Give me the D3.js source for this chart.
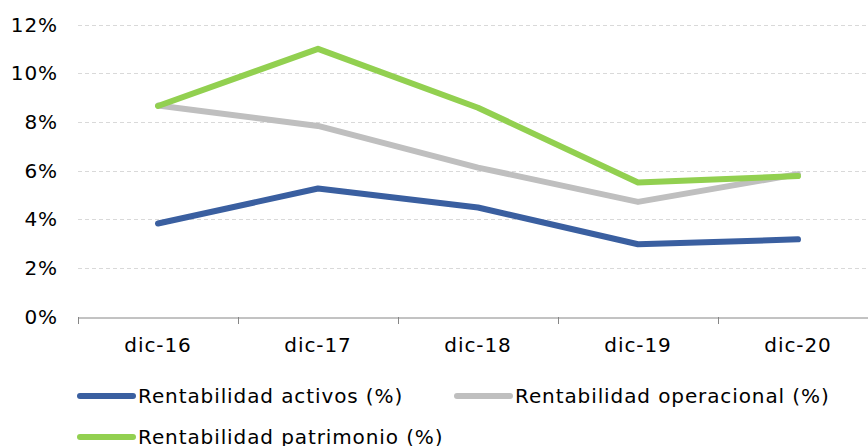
<!DOCTYPE html>
<html>
<head>
<meta charset="utf-8">
<script src="https://cdn.jsdelivr.net/npm/d3@7"></script>
<style>
  body { margin: 0; background: #fff; }
  svg text { font-family: Verdana, "DejaVu Sans", sans-serif; fill: #000; letter-spacing: 0.9px; }
</style>
</head>
<body>
<div id="chart"></div>
<script>
// Datos
const periods = ["dic-16", "dic-17", "dic-18", "dic-19", "dic-20"];
const activos = [3.82, 5.26, 4.48, 2.97, 3.17];
const operacional = [8.67, 7.83, 6.12, 4.71, 5.85];
const patrimonio = [8.65, 11.0, 8.58, 5.51, 5.77];
const yTicks = [0, 2, 4, 6, 8, 10, 12];

const series = [
    { name: "Rentabilidad activos (%)", values: activos, color: "#3A5FA0" },
    { name: "Rentabilidad operacional (%)", values: operacional, color: "#BFBFBF" },
    { name: "Rentabilidad patrimonio (%)", values: patrimonio, color: "#92D050" }
];

const width = 868, height = 446;
const svg = d3.select("#chart").append("svg").attr("width", width).attr("height", height);

const x = d3.scaleBand().domain(periods).range([78, 878]);
const y = d3.scaleLinear().domain([0, 12]).range([316.5, 24.5]);

// grid
svg.append("g")
    .selectAll("line")
    .data(yTicks.filter(d => d > 0))
    .enter()
    .append("line")
    .attr("x1", 78).attr("x2", 878)
    .attr("y1", d => Math.round(y(d)) + 0.5).attr("y2", d => Math.round(y(d)) + 0.5)
    .attr("stroke", "#d9d9d9")
    .attr("stroke-dasharray", "4,3");

// y labels
svg.append("g")
    .selectAll("text")
    .data(yTicks)
    .enter()
    .append("text")
    .attr("x", 58)
    .attr("y", d => y(d))
    .attr("dy", "0.35em")
    .attr("text-anchor", "end")
    .attr("font-size", 20)
    .text(d => d + "%");

// x axis
const xAxis = svg.append("g")
    .attr("transform", `translate(0,${Math.round(y(0)) + 0.5})`)
    .call(d3.axisBottom(x).tickSize(0).tickPadding(20));
xAxis.select(".domain").attr("stroke", "#868686");
xAxis.selectAll("text").attr("font-size", 20).attr("font-family", null);
xAxis.selectAll(".tick line").remove();
svg.append("g")
    .selectAll("line")
    .data(periods)
    .enter()
    .append("line")
    .attr("x1", d => Math.round(x(d)) + 0.5).attr("x2", d => Math.round(x(d)) + 0.5)
    .attr("y1", Math.round(y(0))).attr("y2", Math.round(y(0)) + 7)
    .attr("stroke", "#868686");

// lines
const line = d3.line()
    .x((d, i) => x(periods[i]) + x.bandwidth() / 2)
    .y(d => y(d));

svg.append("g")
    .selectAll("path")
    .data(series)
    .enter()
    .append("path")
    .attr("d", d => line(d.values))
    .attr("fill", "none")
    .attr("stroke", d => d.color)
    .attr("stroke-width", 6)
    .attr("stroke-linecap", "round")
    .attr("stroke-linejoin", "round");

// legend
const legendPos = [[78, 396], [455, 396], [78, 437]];
const lg = svg.append("g")
    .selectAll("g")
    .data(series)
    .enter()
    .append("g")
    .attr("transform", (d, i) => `translate(${legendPos[i][0]},${legendPos[i][1]})`);
lg.append("line")
    .attr("x1", 2).attr("x2", 55)
    .attr("stroke", d => d.color)
    .attr("stroke-width", 6)
    .attr("stroke-linecap", "round");
lg.append("text")
    .attr("x", 60)
    .attr("dy", "0.35em")
    .attr("font-size", 20)
    .text(d => d.name);
</script>
</body>
</html>
